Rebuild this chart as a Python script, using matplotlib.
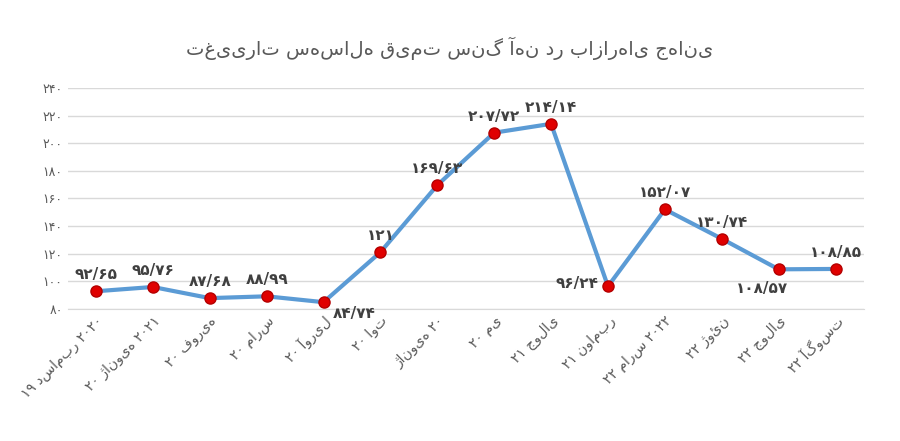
import matplotlib
matplotlib.use("Agg")
import matplotlib.pyplot as plt

plt.rcParams['font.family'] = ['DejaVu Sans', 'Noto Sans']

categories = ["۱۹ دسامبر ۲۰۲۰", "۲۰ ژانویه ۲۰۲۱", "۲۰ فوریه", "۲۰ مارس", "۲۰ آوریل",
              "۲۰ اوت", "ژانویه ۲۰", "۲۰ می", "۲۱ جولای", "۲۱ نوامبر",
              "۲۲ مارس ۲۰۲۲", "۲۲ ژوئن", "۲۲ جولای", "۲۲ آگوست"]
values = [92.65, 95.76, 87.68, 88.99, 84.74, 121, 169.63, 207.72, 214.14, 96.24,
          152.07, 130.74, 108.57, 108.85]
point_labels = ["۹۲/۶۵", "۹۵/۷۶", "۸۷/۶۸", "۸۸/۹۹", "۸۴/۷۴", "۱۲۱", "۱۶۹/۶۳", "۲۰۷/۷۲",
                "۲۱۴/۱۴", "۹۶/۲۴", "۱۵۲/۰۷", "۱۳۰/۷۴", "۱۰۸/۵۷", "۱۰۸/۸۵"]
yticks = [80, 100, 120, 140, 160, 180, 200, 220, 240]
ytick_labels = ["۸۰", "۱۰۰", "۱۲۰", "۱۴۰", "۱۶۰", "۱۸۰", "۲۰۰", "۲۲۰", "۲۴۰"]
title = "تغییرات سه‌ساله قیمت سنگ آهن در بازارهای جهانی"

fig = plt.figure(figsize=(9, 4.41), dpi=100)
ax = fig.add_axes([0.075, 0.30, 0.885, 0.50])
x = list(range(len(values)))
ax.plot(x, values, color='#5B9BD5', lw=3, marker='o', ms=8,
        markerfacecolor='#E00000', markeredgecolor='#B40000', zorder=3)
offsets = {4: (22, -8), 9: (-22, 2), 12: (-12, -14)}
for i, (v, lab) in enumerate(zip(values, point_labels)):
    dx, dy = offsets.get(i, (0, 12))
    ax.annotate(lab, (i, v), xytext=(dx, dy), textcoords='offset points',
                ha='center', va='center', fontsize=11, fontweight='bold', color='#404040')
ax.set_ylim(80, 240)
ax.set_xlim(-0.5, len(values) - 0.5)
ax.set_yticks(yticks)
ax.set_yticklabels(ytick_labels, fontsize=9, color='#595959')
ax.set_xticks(x)
ax.set_xticklabels(categories, rotation=45, ha='right', rotation_mode='anchor',
                   fontsize=10, color='#595959')
ax.grid(axis='y', color='#D9D9D9', lw=1)
ax.set_axisbelow(True)
for s in ['top', 'right', 'left']:
    ax.spines[s].set_visible(False)
ax.spines['bottom'].set_color('#D9D9D9')
ax.tick_params(length=0)
fig.text(0.5, 0.89, title, ha='center', va='center', fontsize=14, color='#595959')
fig.savefig('out.png', dpi=100)
